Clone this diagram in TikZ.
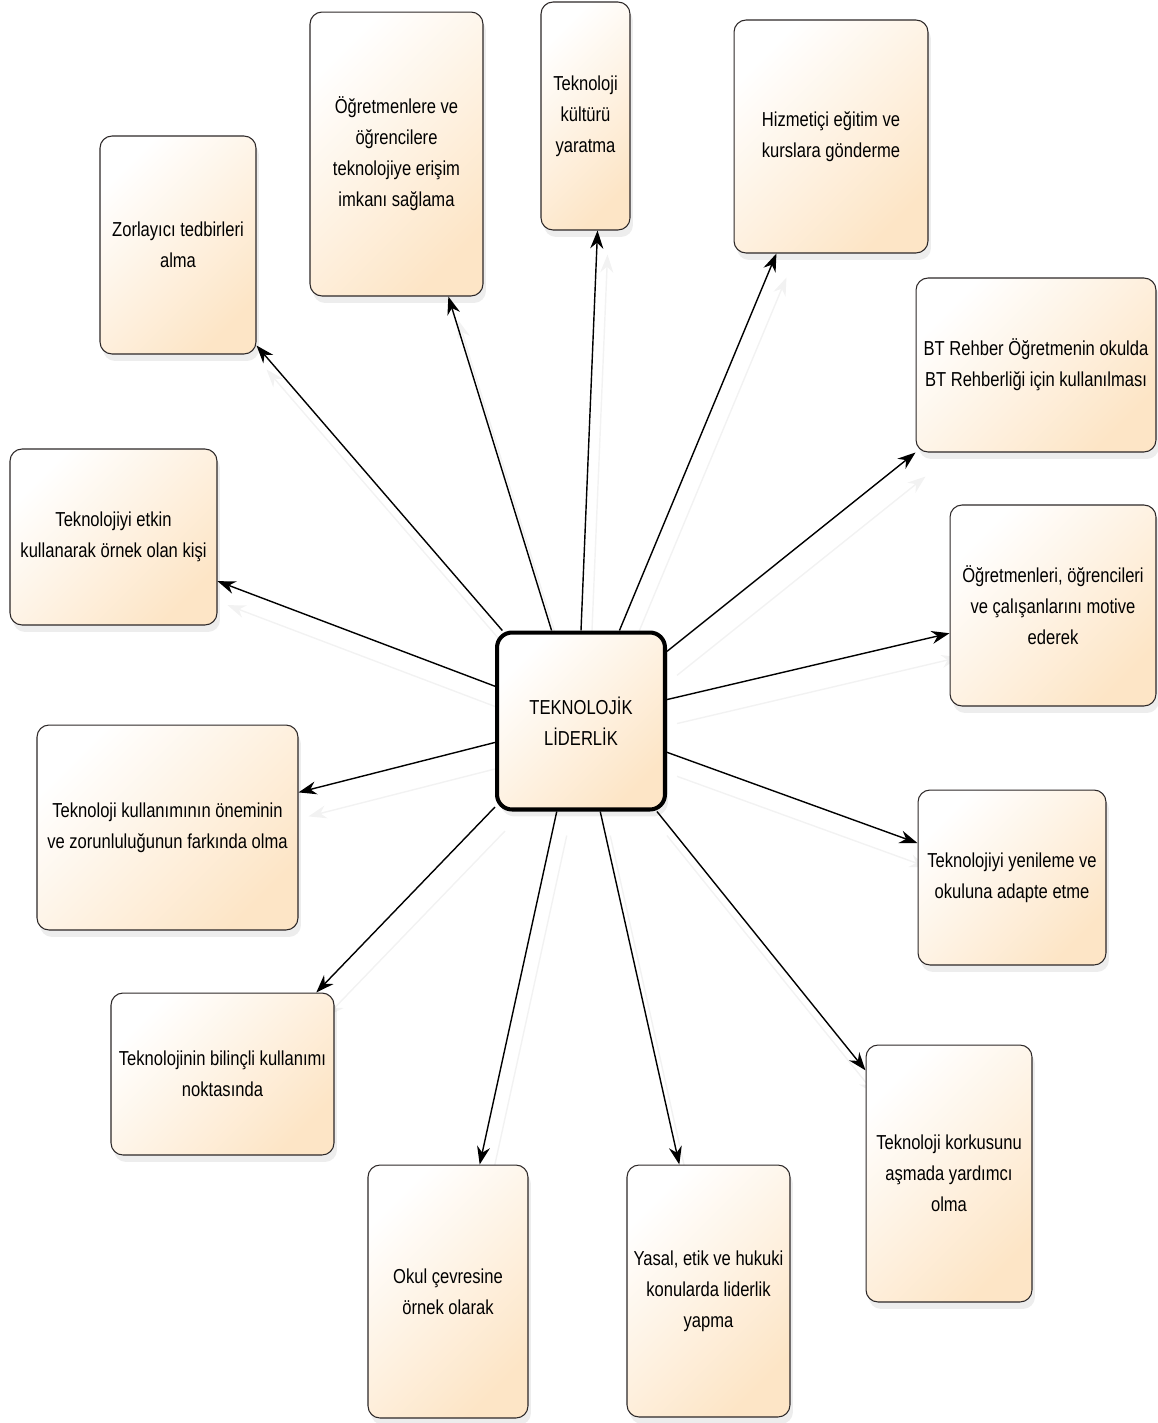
\documentclass[tikz,border=0pt]{standalone}
\usepackage{fontspec}
\setmainfont{Liberation Sans}[FakeStretch=0.82]
\usetikzlibrary{arrows.meta,shadows,backgrounds}
\definecolor{peach}{RGB}{253,229,198}
\definecolor{boxline}{RGB}{45,40,40}
\tikzset{
  box/.style 2 args={draw=boxline, line width=0.6pt, rounded corners=0.24cm,
    left color=white, right color=peach, shading angle=45,
    drop shadow={opacity=0.14, shadow xshift=0.06cm, shadow yshift=-0.14cm},
    align=center, inner sep=0pt, minimum width=#1, minimum height=#2,
    font=\fontsize{11.5}{17.6}\selectfont},
  arr/.style={line width=0.8pt, -{Stealth[length=3.6mm,width=2.6mm]}},
  ghost/.style={arr, draw=black!5, transform canvas={shift={(10,24)}}}
}
\begin{document}
\begin{tikzpicture}[x=0.02cm,y=-0.02cm]
                \useasboundingbox (0,0) rectangle (1158,1423);
                %% centre
                \node[box={3.36cm}{3.54cm}, line width=2.3pt, draw=black, rounded corners=0.3cm] (lider) at (581,721) {TEKNOLOJİK\\LİDERLİK};
                %% upper boxes
                \node[box={3.12cm}{4.36cm}] (zor) at (178,245) {Zorlayıcı tedbirleri\\alma};
                \node[box={3.46cm}{5.68cm}] (erisim) at (396.5,154) {Öğretmenlere ve\\öğrencilere\\teknolojiye erişim\\imkanı sağlama};
                \node[box={1.78cm}{4.56cm}] (kultur) at (585.5,116) {Teknoloji\\kültürü\\yaratma};
                \node[box={3.88cm}{4.66cm}] (hizmet) at (831,136.5) {Hizmetiçi eğitim ve\\kurslara gönderme};
                %% right boxes
                \node[box={4.80cm}{3.48cm}] (rehber) at (1036,365) {BT Rehber Öğretmenin okulda\\BT Rehberliği için kullanılması};
                \node[box={4.12cm}{4.02cm}] (motive) at (1053,605.5) {Öğretmenleri, öğrencileri\\ve çalışanlarını motive\\ederek};
                \node[box={3.76cm}{3.50cm}] (yenile) at (1012,877.5) {Teknolojiyi yenileme ve\\okuluna adapte etme};
                \node[box={3.32cm}{5.14cm}] (korku) at (949,1173.5) {Teknoloji korkusunu\\aşmada yardımcı\\olma};
                %% lower boxes
                \node[box={3.26cm}{5.04cm}] (yasal) at (708.5,1291) {Yasal, etik ve hukuki\\konularda liderlik\\yapma};
                \node[box={3.20cm}{5.06cm}] (okul) at (448,1291.5) {Okul çevresine\\örnek olarak};
                %% left boxes
                \node[box={4.46cm}{3.24cm}] (bilinc) at (222.5,1074) {Teknolojinin bilinçli kullanımı\\noktasında};
                \node[box={5.22cm}{4.10cm}] (onem) at (167.5,827.5) {Teknoloji kullanımının öneminin\\ve zorunluluğunun farkında olma};
                \node[box={4.14cm}{3.52cm}] (etkin) at (113.5,537) {Teknolojiyi etkin\\kullanarak örnek olan kişi};
                %% arrows
                \foreach \s/\t in {131/zor.-52, 108/erisim.-70, 90/kultur.-84, 67/hizmet.-115,
                    39/rehber.south west, 14/motive.195, -20/yenile.160, -50/korku.129,
                    -78/yasal.103, -105/okul.76, -135/bilinc.41, 194/onem.15, 158/etkin.-23}
                {
                    \begin{scope}[on background layer]
                        \draw[ghost] (lider.\s) -- (\t);
                    \end{scope}
                    \draw[arr] (lider.\s) -- (\t);
                }
\end{tikzpicture}
\end{document}
